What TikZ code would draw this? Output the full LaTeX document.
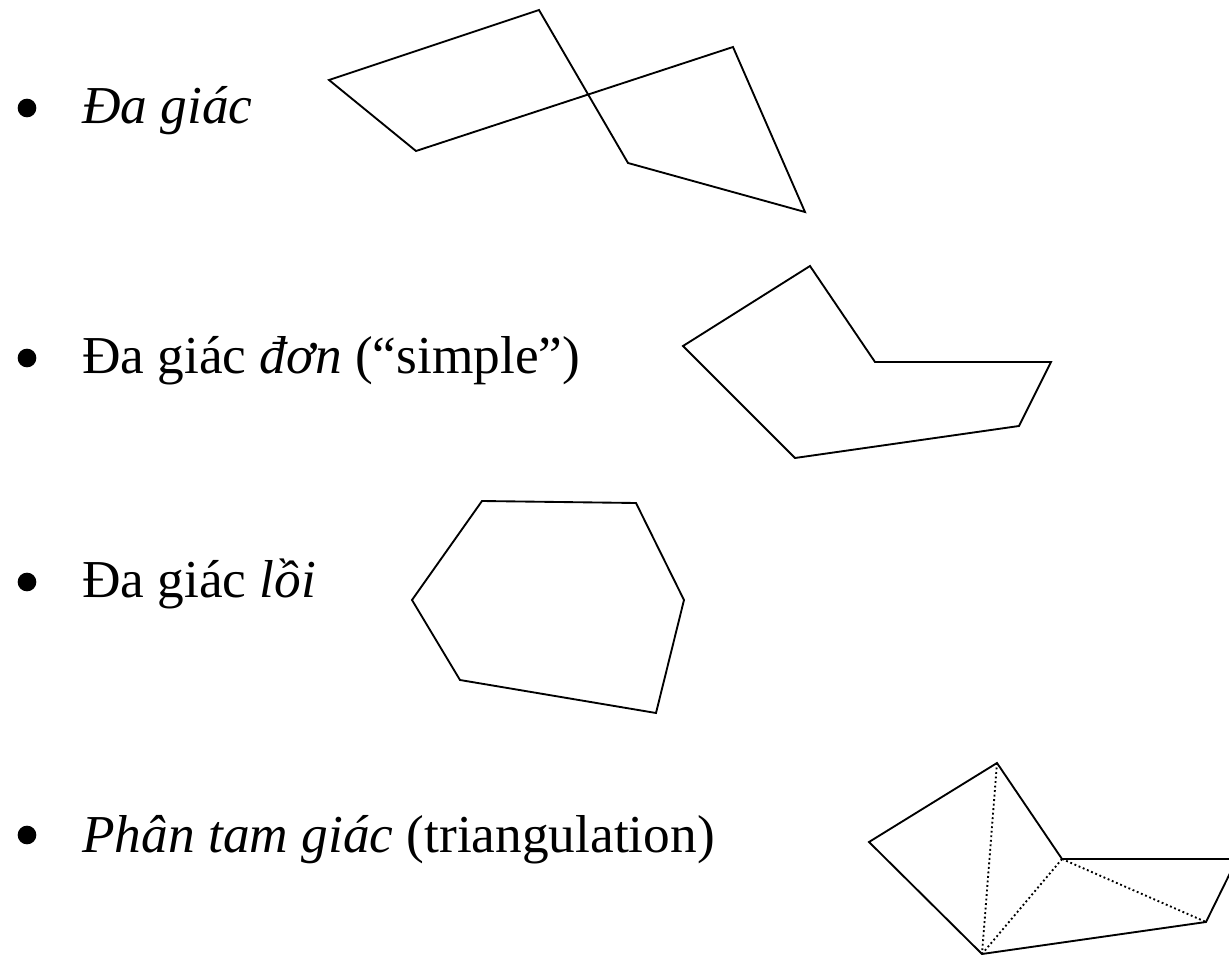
\documentclass[tikz,border=0pt]{standalone}
\usepackage{fontspec}
\setmainfont{Liberation Serif}
\begin{document}
\begin{tikzpicture}[x=0.75pt,y=-0.75pt,
  edge/.style={line width=1.4pt,line join=miter},
  diag/.style={line width=1.4pt,dotted},
  bul/.style={circle,fill=black,inner sep=0pt,minimum size=14pt},
  lbl/.style={anchor=base west,inner sep=0pt,font=\fontsize{40}{48}\selectfont}]
\useasboundingbox (0,0) rectangle (1229,956);

% list items
\node[bul] (b1) at (27,108) {};
\node[lbl] (t1) at (82,123) {\itshape Đa giác};
\node[bul] (b2) at (27,358) {};
\node[lbl] (t2) at (82,373) {Đa giác \textit{đơn} (“simple”)};
\node[bul] (b3) at (27,582) {};
\node[lbl] (t3) at (82,597) {Đa giác \textit{lồi}};
\node[bul] (b4) at (27,835) {};
\node[lbl] (t4) at (82,852) {\textit{Phân tam giác} (triangulation)};

% self-intersecting polygon
\draw[edge] (329,80) -- (539,10) -- (628,163) -- (805,212) -- (733,47) -- (416,151) -- cycle;

% simple polygon
\draw[edge] (683,346) -- (810,266) -- (875,362) -- (1051,362) -- (1019,426) -- (795,458) -- cycle;

% convex polygon
\draw[edge] (412,600) -- (482,501) -- (636,503) -- (684,600) -- (656,713) -- (460,680) -- cycle;

% triangulated polygon
\begin{scope}
\clip (0,0) rectangle (1229,956);
\coordinate (p1) at (869,842);
\coordinate (p2) at (997,763);
\coordinate (p3) at (1062,859);
\coordinate (p4) at (1237,859);
\coordinate (p5) at (1206,922);
\coordinate (p6) at (982,954);
\draw[edge] (p1) -- (p2) -- (p3) -- (p4) -- (p5) -- (p6) -- cycle;
\draw[diag] (p2) -- (p6);
\draw[diag] (p3) -- (p6);
\draw[diag] (p3) -- (p5);
\end{scope}
\end{tikzpicture}
\end{document}
